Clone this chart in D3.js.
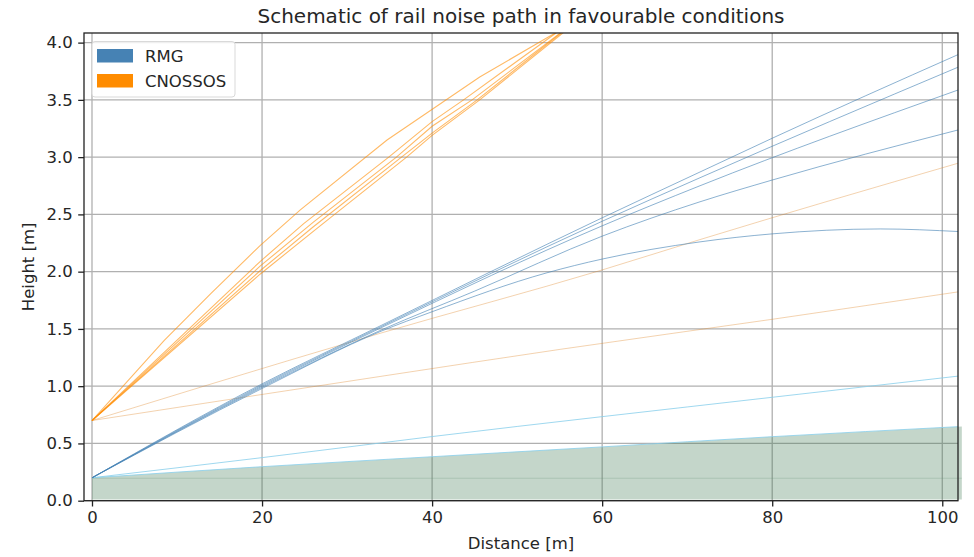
<!DOCTYPE html>
<html>
<head>
<meta charset="utf-8">
<script src="https://cdn.jsdelivr.net/npm/d3@7"></script>
<style>
  body { margin: 0; background: #fff; }
  svg { display: block; }
</style>
</head>
<body>
<div id="chart"></div>
<script>
const width = 974, height = 557;
const margin = { top: 33, right: 16, bottom: 56.3, left: 84 };
const innerWidth = width - margin.left - margin.right;
const innerHeight = height - margin.top - margin.bottom;

const xTicks = [0, 20, 40, 60, 80, 100];
const yTicks = [0, 0.5, 1.0, 1.5, 2.0, 2.5, 3.0, 3.5, 4.0];

// ground profile (top edge of the shaded area)
const groundProfile = [[0, 0.2], [20, 0.297], [40, 0.384], [60, 0.47], [80, 0.559], [102.3, 0.648]];

// RMG rays, curved by the favourable conditions
const rmgRays = [
  [[0, 0.2], [20, 1.02], [34, 1.53], [60, 2.47], [71.5, 2.87], [80, 3.165], [102, 3.90]],
  [[0, 0.2], [20, 1.01], [34, 1.52], [60, 2.44], [71.5, 2.82], [102, 3.79]],
  [[0, 0.2], [20, 1.0], [34, 1.51], [60, 2.40], [71.5, 2.75], [102, 3.59]],
  [[0, 0.2], [20, 0.99], [34, 1.49], [45, 1.83], [60, 2.31], [71.5, 2.61], [80, 2.80], [102, 3.24]],
  [[0, 0.2], [20, 0.98], [34, 1.48], [40, 1.65], [53.5, 1.99], [60, 2.11], [71.5, 2.26], [80, 2.33], [92.7, 2.373], [102, 2.35]]
];

// RMG low rays (light blue)
const rmgLowRays = [
  [[0, 0.2], [20, 0.376], [40, 0.56], [80, 0.903], [102, 1.089]],
  [[0, 0.2], [20, 0.297], [40, 0.384], [60, 0.47], [80, 0.559], [102, 0.647]]
];

// CNOSSOS rays
const cnossosRays = [
  [[0, 0.7], [8.5, 1.40], [14, 1.81], [19.8, 2.23], [24.5, 2.54], [34.7, 3.15], [45.6, 3.70], [56, 4.15]],
  [[0, 0.7], [19.8, 2.09], [24.9, 2.42], [34.9, 3.0], [40, 3.31], [43.7, 3.5], [54.5, 4.08], [56, 4.16]],
  [[0, 0.7], [19.8, 2.05], [26, 2.43], [35.8, 3.0], [40, 3.27], [44.7, 3.5], [55, 4.08], [56, 4.14]],
  [[0, 0.7], [19.8, 2.01], [26, 2.39], [36.4, 3.0], [40, 3.21], [45.3, 3.5], [55.1, 4.08], [56, 4.13]],
  [[0, 0.7], [19.8, 1.98], [26.5, 2.38], [37, 3.0], [40, 3.19], [45.6, 3.5], [55.3, 4.08], [56, 4.12]]
];

// CNOSSOS flatter rays (faint)
const cnossosFaintRays = [
  [[0, 0.7], [13.6, 1.01], [33.9, 1.462], [60, 2.015], [71.5, 2.28], [102, 2.95]],
  [[0, 0.7], [34.35, 1.09], [55.1, 1.322], [80, 1.584], [102, 1.825]]
];

const legendItems = [
  { label: 'RMG', color: '#4682b4' },
  { label: 'CNOSSOS', color: '#ff8c00' }
];

const font = 'DejaVu Sans, sans-serif';

const svg = d3.select('#chart')
  .append('svg')
  .attr('width', width).attr('height', height)
  .attr('viewBox', `0 0 ${width} ${height}`);

const inner = svg.append('g')
  .attr('transform', `translate(${margin.left},${margin.top})`);

const xScale = d3.scaleLinear().domain([-0.94, 101.85]).range([0, innerWidth]);
const yScale = d3.scaleLinear().domain([0, 4.084]).range([innerHeight, 0]);

svg.append('defs').append('clipPath').attr('id', 'plotClip')
  .append('rect').attr('width', innerWidth).attr('height', innerHeight);

/* Grid */
inner.selectAll('.xgrid')
  .data(xTicks).join('line')
  .attr('x1', d => xScale(d)).attr('x2', d => xScale(d))
  .attr('y1', 0).attr('y2', innerHeight)
  .attr('stroke', '#b0b0b0').attr('stroke-width', 1.3);

inner.selectAll('.ygrid')
  .data(yTicks).join('line')
  .attr('x1', 0).attr('x2', innerWidth)
  .attr('y1', d => yScale(d)).attr('y2', d => yScale(d))
  .attr('stroke', '#b0b0b0').attr('stroke-width', 1.3);

/* Ground */
const area = d3.area()
  .x(d => xScale(d[0]))
  .y0(yScale(0.01))
  .y1(d => yScale(d[1]));

inner.append('path')
  .datum(groundProfile)
  .attr('d', area)
  .attr('fill', '#3a764e').attr('fill-opacity', 0.3);

inner.append('line')
  .attr('x1', xScale(0)).attr('x2', xScale(102.3))
  .attr('y1', yScale(0.196)).attr('y2', yScale(0.196))
  .attr('stroke', '#5f8f70').attr('stroke-opacity', 0.25).attr('stroke-width', 1);

/* Rays */
const line = d3.line().x(d => xScale(d[0])).y(d => yScale(d[1]));
const smoothLine = d3.line().curve(d3.curveMonotoneX).x(d => xScale(d[0])).y(d => yScale(d[1]));
const rays = inner.append('g').attr('clip-path', 'url(#plotClip)');

rays.selectAll('.low')
  .data(rmgLowRays).join('path')
  .attr('d', smoothLine).attr('fill', 'none')
  .attr('stroke', '#87ceeb').attr('stroke-opacity', 0.8).attr('stroke-width', 1);

rays.selectAll('.faint')
  .data(cnossosFaintRays).join('path')
  .attr('d', smoothLine).attr('fill', 'none')
  .attr('stroke', '#e08a2e').attr('stroke-opacity', 0.38).attr('stroke-width', 1);

rays.selectAll('.rmg')
  .data(rmgRays).join('path')
  .attr('d', smoothLine).attr('fill', 'none')
  .attr('stroke', '#4682b4').attr('stroke-opacity', 0.62).attr('stroke-width', 1);

rays.selectAll('.cnossos')
  .data(cnossosRays).join('path')
  .attr('d', line).attr('fill', 'none')
  .attr('stroke', '#ff8c00').attr('stroke-opacity', 0.6).attr('stroke-width', 1.1);

/* Axes */
const xAxis = inner.append('g')
  .attr('transform', `translate(0,${innerHeight})`)
  .call(d3.axisBottom(xScale).tickValues(xTicks).tickSize(5.8).tickPadding(5).tickFormat(d3.format('d')))
  .call(ax => ax.select('.domain').remove());
xAxis.selectAll('.tick line').attr('stroke', '#222').attr('stroke-width', 1.3);
xAxis.selectAll('text')
  .style('font-family', font).style('font-size', '16.5px').style('fill', '#262626');

const yAxis = inner.append('g')
  .call(d3.axisLeft(yScale).tickValues(yTicks).tickSize(5.8).tickPadding(5.5).tickFormat(d3.format('.1f')))
  .call(ax => ax.select('.domain').remove());
yAxis.selectAll('.tick line').attr('stroke', '#222').attr('stroke-width', 1.3);
yAxis.selectAll('text')
  .style('font-family', font).style('font-size', '16.5px').style('fill', '#262626');

/* Frame */
inner.append('rect')
  .attr('width', innerWidth).attr('height', innerHeight)
  .attr('fill', 'none').attr('stroke', '#222').attr('stroke-width', 1.3);

/* Labels */
svg.append('text')
  .attr('x', margin.left + innerWidth / 2).attr('y', 22.7)
  .attr('text-anchor', 'middle')
  .attr('font-family', font).attr('font-size', '20px').attr('fill', '#262626')
  .text('Schematic of rail noise path in favourable conditions');

svg.append('text')
  .attr('x', margin.left + innerWidth / 2).attr('y', 549)
  .attr('text-anchor', 'middle')
  .attr('font-family', font).attr('font-size', '16.5px').attr('fill', '#262626')
  .text('Distance [m]');

svg.append('text')
  .attr('transform', `translate(34,${margin.top + innerHeight / 2}) rotate(-90)`)
  .attr('text-anchor', 'middle')
  .attr('font-family', font).attr('font-size', '16.5px').attr('fill', '#262626')
  .text('Height [m]');

/* Legend */
const leg = svg.append('g').attr('transform', 'translate(92,41.5)');
leg.append('rect')
  .attr('width', 143).attr('height', 55.5).attr('rx', 3)
  .attr('fill', 'white').attr('fill-opacity', 0.8)
  .attr('stroke', '#d9d9d9').attr('stroke-width', 1);
legendItems.forEach((t, i) => {
  const r = leg.append('g').attr('transform', `translate(5,${7.5 + i * 25})`);
  r.append('rect').attr('width', 36).attr('height', 13.5)
    .attr('fill', t.color);
  r.append('text').attr('x', 48).attr('y', 13.3)
    .attr('font-family', font).attr('font-size', '16.5px').attr('fill', '#262626')
    .text(t.label);
});
</script>
</body>
</html>
